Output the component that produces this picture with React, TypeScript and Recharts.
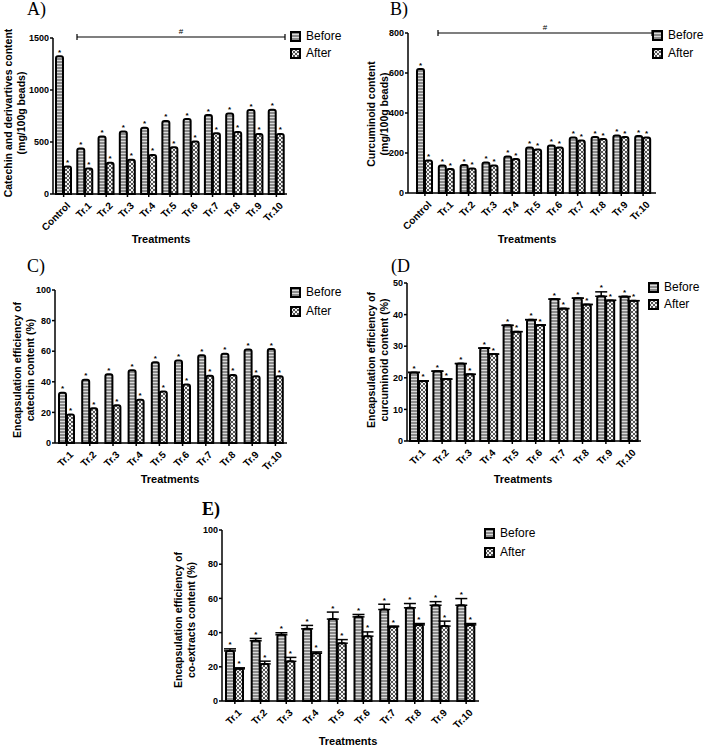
import React from "react";
import { BarChart, Bar, XAxis, YAxis, ErrorBar, LabelList } from "recharts";

const groupsWithControl = ["Control", "Tr.1", "Tr.2", "Tr.3", "Tr.4", "Tr.5", "Tr.6", "Tr.7", "Tr.8", "Tr.9", "Tr.10"];
const groups = ["Tr.1", "Tr.2", "Tr.3", "Tr.4", "Tr.5", "Tr.6", "Tr.7", "Tr.8", "Tr.9", "Tr.10"];

// A) catechin and derivatives content (mg/100g beads)
const catechinBefore = [1324, 437, 552, 600, 638, 702, 721, 759, 775, 807, 810];
const catechinAfter = [265, 246, 300, 329, 376, 450, 504, 584, 597, 577, 577];

// B) curcuminoid content (mg/100g beads)
const curcBefore = [620, 138, 140, 153, 183, 227, 237, 278, 280, 288, 285];
const curcAfter = [162, 120, 123, 138, 170, 217, 227, 262, 270, 280, 278];

// C) encapsulation efficiency, catechin (%)
const eeCatBefore = [32.8, 41.3, 45.0, 47.6, 52.8, 54.0, 57.4, 58.3, 61.1, 61.4];
const eeCatAfter = [18.6, 22.7, 24.7, 28.2, 33.6, 38.2, 43.9, 44.5, 43.7, 43.7];

// D) encapsulation efficiency, curcuminoid (%)
const eeCurBefore = [21.7, 22.1, 24.5, 29.4, 36.6, 38.4, 44.9, 45.2, 45.8, 45.7];
const eeCurAfter = [19.0, 19.6, 21.1, 27.5, 34.6, 36.7, 41.9, 43.2, 44.5, 44.4];
const eeCurBeforeErr = [0, 0, 0, 0, 0, 0, 0, 0, 1.4, 0];
const eeCurAfterErr = [0, 0, 0, 0, 0, 0, 0, 0, 0, 0];

// E) encapsulation efficiency, co-extracts (%)
const eeCoBefore = [29.3, 35.2, 38.7, 42.2, 47.9, 49.2, 53.5, 54.5, 56.0, 56.0];
const eeCoAfter = [18.8, 21.7, 23.2, 27.9, 33.8, 37.9, 43.4, 44.5, 43.8, 44.5];
const eeCoBeforeErr = [1.2, 1.4, 1.2, 2.0, 4.1, 1.4, 3.1, 2.5, 2.1, 3.9];
const eeCoAfterErr = [0.6, 1.6, 2.3, 0.8, 2.1, 2.5, 0.4, 0.8, 2.9, 0.8];

const ticksA = [0, 500, 1000, 1500];
const ticksB = [0, 200, 400, 600, 800];
const ticksPct = [0, 20, 40, 60, 80, 100];
const ticksD = [0, 10, 20, 30, 40, 50];

const font = "'Liberation Sans', Arial, sans-serif";
const serif = "'Liberation Serif', 'Times New Roman', serif";

const makeRows = (cats: string[], before: number[], after: number[], bErr?: number[], aErr?: number[]) =>
  cats.map((name, i) => ({
    name,
    before: before[i],
    after: after[i],
    beforeErr: bErr ? [0, bErr[i]] : undefined,
    afterErr: aErr ? [0, aErr[i]] : undefined,
  }));

// asterisk sits on the bar, or on the error cap when there is one
const starLabel = (errs?: number[]) => (props: any) => {
  const { x, y, width, height, value, index } = props;
  const e = errs && errs[index] ? (errs[index] * height) / value : 0;
  return (
    <text x={x + width / 2} y={y - e - 1.5} textAnchor="middle" fontSize={8} fontWeight="bold" fontFamily={font} fill="#000">
      *
    </text>
  );
};

const AngledTick = (props: any) => {
  const { x, y, payload } = props;
  return (
    <g transform={`translate(${x + 3},${y + 3})`}>
      <text textAnchor="end" transform="rotate(-45)" fontSize={10} fontWeight="bold" fontFamily={font} fill="#000" dy={6}>
        {payload.value}
      </text>
    </g>
  );
};

type PanelProps = {
  left: number;
  top: number;
  width: number;
  height: number;
  yWidth: number;
  marginTop: number;
  data: any[];
  max: number;
  ticks: number[];
  barSize: number;
  padLeft?: number;
  padRight?: number;
  beforeErr?: number[];
  afterErr?: number[];
};

const Panel = (p: PanelProps) => (
  <div style={{ position: "absolute", left: p.left, top: p.top }}>
    <BarChart
      width={p.width}
      height={p.height}
      data={p.data}
      margin={{ top: p.marginTop, right: 0, left: 0, bottom: 0 }}
      barGap={1}
      barCategoryGap={0}
      barSize={p.barSize}
    >
      <XAxis
        dataKey="name"
        interval={0}
        height={40}
        tick={<AngledTick />}
        tickSize={3}
        stroke="#000"
        strokeWidth={1.5}
        padding={{ left: p.padLeft ?? 0, right: p.padRight ?? 0 }}
      />
      <YAxis
        width={p.yWidth}
        domain={[0, p.max]}
        ticks={p.ticks}
        interval={0}
        tickSize={3}
        tickMargin={1}
        stroke="#000"
        strokeWidth={1.5}
        tick={{ fontSize: 9, fontWeight: "bold", fontFamily: font, fill: "#000" }}
      />
      <Bar dataKey="before" fill="url(#beforeFill)" stroke="#000" strokeWidth={2} radius={[2, 2, 0, 0]} isAnimationActive={false}>
        {p.beforeErr && <ErrorBar dataKey="beforeErr" width={6} stroke="#000" strokeWidth={1.5} direction="y" />}
        <LabelList dataKey="before" content={starLabel(p.beforeErr)} />
      </Bar>
      <Bar dataKey="after" fill="url(#afterFill)" stroke="#000" strokeWidth={2} radius={[2, 2, 0, 0]} isAnimationActive={false}>
        {p.afterErr && <ErrorBar dataKey="afterErr" width={6} stroke="#000" strokeWidth={1.5} direction="y" />}
        <LabelList dataKey="after" content={starLabel(p.afterErr)} />
      </Bar>
    </BarChart>
  </div>
);

const Legend2 = ({ x, y, gap }: { x: number; y: number; gap: number }) => (
  <div style={{ position: "absolute", left: x, top: y, fontFamily: font, fontSize: 12 }}>
    {[
      ["Before", "url(#beforeFill)"],
      ["After", "url(#afterFill)"],
    ].map(([name, fill], i) => (
      <div key={name} style={{ position: "absolute", left: 0, top: i * gap - 6, display: "flex", alignItems: "center", whiteSpace: "nowrap", height: 12 }}>
        <svg width={11} height={11} style={{ display: "block" }}>
          <rect x={1} y={1} width={9} height={9} fill={fill} stroke="#000" strokeWidth={2} />
        </svg>
        <span style={{ marginLeft: 5, lineHeight: "12px" }}>{name}</span>
      </div>
    ))}
  </div>
);

const YTitle = ({ cx, cy, lines }: { cx: number; cy: number; lines: string[] }) => (
  <div
    style={{
      position: "absolute",
      left: cx,
      top: cy,
      transform: "translate(-50%, -50%) rotate(-90deg)",
      fontFamily: font,
      fontWeight: "bold",
      fontSize: 10.5,
      lineHeight: "13px",
      textAlign: "center",
      whiteSpace: "nowrap",
    }}
  >
    {lines.map((l) => (
      <div key={l}>{l}</div>
    ))}
  </div>
);

const XTitle = ({ cx, top }: { cx: number; top: number }) => (
  <div style={{ position: "absolute", left: cx, top, transform: "translateX(-50%)", fontFamily: font, fontWeight: "bold", fontSize: 11, lineHeight: "11px" }}>
    Treatments
  </div>
);

const Letter = ({ x, top, text, bold }: { x: number; top: number; text: string; bold?: boolean }) => (
  <div style={{ position: "absolute", left: x, top, fontFamily: serif, fontSize: 18, lineHeight: "18px", fontWeight: bold ? "bold" : "normal" }}>
    {text}
  </div>
);

const Bracket = ({ x1, x2, y }: { x1: number; x2: number; y: number }) => (
  <svg style={{ position: "absolute", left: x1 - 2, top: y - 12 }} width={x2 - x1 + 4} height={16}>
    <line x1={2} x2={x2 - x1 + 2} y1={12} y2={12} stroke="#000" strokeWidth={1.2} />
    <line x1={2} x2={2} y1={9} y2={15} stroke="#000" strokeWidth={1.2} />
    <line x1={x2 - x1 + 2} x2={x2 - x1 + 2} y1={9} y2={15} stroke="#000" strokeWidth={1.2} />
    <text x={(x2 - x1) / 2 + 2} y={9} textAnchor="middle" fontSize={8} fontFamily={font} fill="#000">
      #
    </text>
  </svg>
);

export default function App() {
  const dataA = makeRows(groupsWithControl, catechinBefore, catechinAfter);
  const dataB = makeRows(groupsWithControl, curcBefore, curcAfter);
  const dataC = makeRows(groups, eeCatBefore, eeCatAfter);
  const dataD = makeRows(groups, eeCurBefore, eeCurAfter, eeCurBeforeErr, eeCurAfterErr);
  const dataE = makeRows(groups, eeCoBefore, eeCoAfter, eeCoBeforeErr, eeCoAfterErr);

  return (
    <div style={{ position: "absolute", left: 0, top: 0, width: 708, height: 748, background: "#fff", overflow: "hidden" }}>
      <svg width={0} height={0} style={{ position: "absolute" }}>
        <defs>
          <pattern id="beforeFill" width={3} height={3} patternUnits="userSpaceOnUse">
            <rect width={3} height={3} fill="#8a8a8a" />
            <rect width={3} height={1} fill="#dadada" />
          </pattern>
          <pattern id="afterFill" width={4} height={4} patternUnits="userSpaceOnUse">
            <rect width={4} height={4} fill="#f4f4f4" />
            <circle cx={0} cy={0} r={1} fill="#222" />
            <circle cx={4} cy={0} r={1} fill="#222" />
            <circle cx={0} cy={4} r={1} fill="#222" />
            <circle cx={4} cy={4} r={1} fill="#222" />
            <circle cx={2} cy={2} r={1} fill="#222" />
          </pattern>
        </defs>
      </svg>

      <Letter x={27} top={0} text="A)" />
      <YTitle cx={15} cy={113} lines={["Catechin and derivartives content", "(mg/100g beads)"]} />
      <Panel left={0} top={0} width={287} height={234} yWidth={53} marginTop={38} data={dataA} max={1500} ticks={ticksA} barSize={7} />
      <Bracket x1={77} x2={285} y={37} />
      <Legend2 x={290} y={36} gap={17} />
      <XTitle cx={161} top={234} />

      <Letter x={390} top={0} text="B)" />
      <YTitle cx={378} cy={114} lines={["Curcuminoid content", "(mg/100g beads)"]} />
      <Panel left={350} top={0} width={306} height={233} yWidth={58} marginTop={33} data={dataB} max={800} ticks={ticksB} barSize={7} padLeft={6} padRight={2} />
      <Bracket x1={438} x2={652} y={33} />
      <Legend2 x={652} y={35} gap={18} />
      <XTitle cx={527} top={234} />

      <Letter x={27} top={257} text="C)" />
      <YTitle cx={24} cy={370} lines={["Encapsulation efficiency of", "catechin content (%)"]} />
      <Panel left={0} top={250} width={287} height={233} yWidth={55} marginTop={40} data={dataC} max={100} ticks={ticksPct} barSize={7} />
      <Legend2 x={290} y={292} gap={19} />
      <XTitle cx={170} top={474} />

      <Letter x={391} top={257} text="(D" />
      <YTitle cx={378} cy={360} lines={["Encapsulation efficiency of", "curcuminoid content (%)"]} />
      <Panel left={350} top={250} width={291} height={231} yWidth={57} marginTop={33} data={dataD} max={50} ticks={ticksD} barSize={8} beforeErr={eeCurBeforeErr} afterErr={eeCurAfterErr} />
      <Legend2 x={648} y={287} gap={17} />
      <XTitle cx={523} top={474} />

      <Letter x={202} top={500} text="E)" bold />
      <YTitle cx={185} cy={620} lines={["Encapsulation efficiency of", "co-extracts content (%)"]} />
      <Panel left={180} top={490} width={299} height={251} yWidth={42} marginTop={40} data={dataE} max={100} ticks={ticksPct} barSize={8} beforeErr={eeCoBeforeErr} afterErr={eeCoAfterErr} />
      <Legend2 x={484} y={533} gap={19} />
      <XTitle cx={348} top={736} />
    </div>
  );
}
